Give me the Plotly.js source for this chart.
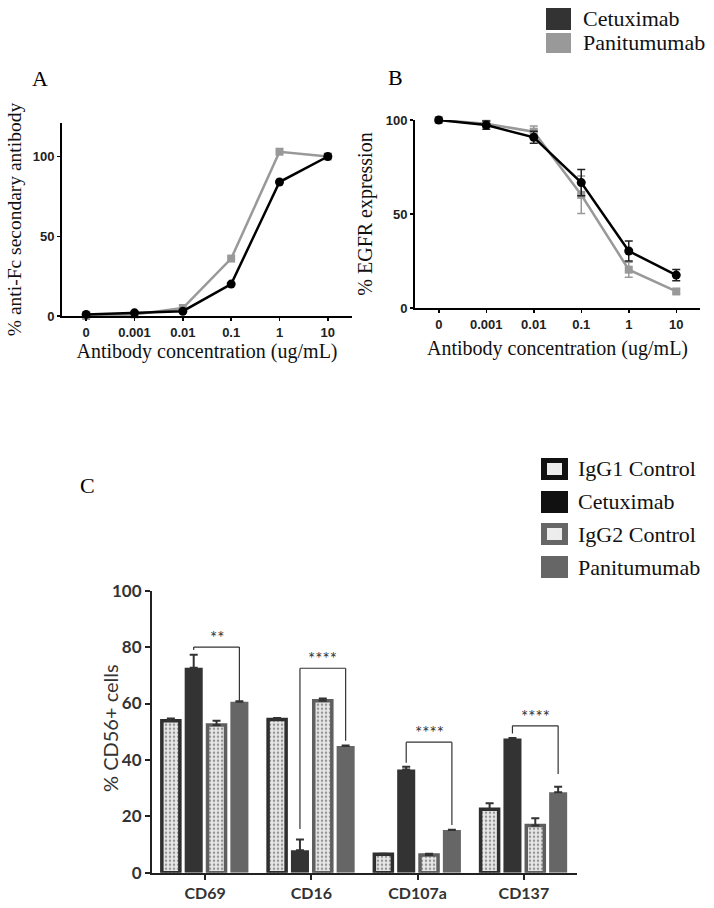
<!DOCTYPE html>
<html>
<head>
<meta charset="utf-8">
<script src="https://cdn.plot.ly/plotly-3.0.1.min.js"></script>
<style>html,body{margin:0;padding:0;background:#fff;}#chart{width:714px;height:908px;}</style>
</head>
<body>
<div id="chart"></div>
<script>
// ---------- DATA ----------
const concLabels = ['0', '0.001', '0.01', '0.1', '1', '10'];

// Panel A: % anti-Fc secondary antibody
const aCetuximab = [1, 2, 3, 20, 84, 100];
const aPanitumumab = [0, 1, 5, 36, 103, 100];

// Panel B: % EGFR expression (mean, sd)
const bCetuximab = [100, 97.3, 90.8, 66.7, 30.3, 17.5];
const bCetuximabErr = [0.8, 2.2, 3.2, 7, 5.3, 3];
const bPanitumumab = [100, 98, 93.8, 60.2, 20.4, 8.8];
const bPanitumumabErr = [0.5, 1.5, 3, 10, 4, 1];

// Panel C: % CD56+ cells
const markers = ['CD69', 'CD16', 'CD107a', 'CD137'];
const cIgG1 = [53.9, 54.3, 6.5, 22.5];
const cIgG1Err = [0.8, 0.6, 0.2, 2.1];
const cCetuximab = [72.7, 8.0, 36.6, 47.6];
const cCetuximabErr = [4.6, 3.8, 1.0, 0.2];
const cIgG2 = [52.4, 61.0, 6.3, 16.7];
const cIgG2Err = [1.5, 0.8, 0.4, 2.6];
const cPanitumumab = [60.6, 44.9, 15.1, 28.5];
const cPanitumumabErr = [0.2, 0.2, 0.1, 2.0];

// significance brackets (Cetuximab vs Panitumumab)
const sigLabels = ['**', '****', '****', '****'];
const sigLevel = [80, 72.5, 46.3, 52.1];
const sigLeftEnd = [79, 15.5, 39, 49.4];
const sigRightEnd = [60.6, 46.8, 16.9, 35];

// ---------- LAYOUT HELPERS ----------
const W = 714, H = 908;
const px = x => x / W;
const py = y => 1 - y / H;

const serif = 'Liberation Serif, Times New Roman, serif';
const sansBold = 'Liberation Sans, Arial, sans-serif';
const cal = 'Lato, Open Sans, sans-serif';

const cIdx = markers.map((_, i) => i);
const bargap = 0.14, bargroupgap = 0.21;
const slot = (1 - bargap) / 4;
const offsetOf = k => (k - 1.5) * slot;

const traces = [];

// Panel A
traces.push({
  x: concLabels, y: aPanitumumab, xaxis: 'x', yaxis: 'y', type: 'scatter', mode: 'lines+markers',
  line: {color: '#999999', width: 2.5}, marker: {symbol: 'square', size: 8, color: '#999999'},
  cliponaxis: false, showlegend: false
});
traces.push({
  x: concLabels, y: aCetuximab, xaxis: 'x', yaxis: 'y', type: 'scatter', mode: 'lines+markers',
  line: {color: '#000000', width: 2.5}, marker: {symbol: 'circle', size: 9, color: '#000000'},
  cliponaxis: false, showlegend: false
});

// Panel B
traces.push({
  x: concLabels, y: bPanitumumab, xaxis: 'x2', yaxis: 'y2', type: 'scatter', mode: 'lines+markers',
  line: {color: '#999999', width: 2.5}, marker: {symbol: 'square', size: 8, color: '#999999'},
  error_y: {type: 'data', array: bPanitumumabErr, visible: true, color: '#999999', thickness: 1.5, width: 4},
  cliponaxis: false, showlegend: false
});
traces.push({
  x: concLabels, y: bCetuximab, xaxis: 'x2', yaxis: 'y2', type: 'scatter', mode: 'lines+markers',
  line: {color: '#000000', width: 2.5}, marker: {symbol: 'circle', size: 9, color: '#000000'},
  error_y: {type: 'data', array: bCetuximabErr, visible: true, color: '#222222', thickness: 1.5, width: 4},
  cliponaxis: false, showlegend: false
});

// Panel C
const zeros = markers.map(() => 0);
function barTrace(name, vals, errs, fill, lineColor, lineWidth, pattern) {
  const t = {
    type: 'bar', name: name, x: cIdx, y: vals, xaxis: 'x3', yaxis: 'y3',
    marker: {color: fill, line: {color: lineColor, width: lineWidth}},
    error_y: {type: 'data', symmetric: false, array: errs, arrayminus: zeros, visible: true,
              color: '#333333', thickness: 2, width: 4},
    showlegend: false, cliponaxis: false
  };
  if (pattern) {
    t.marker.pattern = {shape: '.', bgcolor: '#e8e8e8', fgcolor: '#959595', size: 4, solidity: 0.3, fillmode: 'replace'};
  }
  return t;
}
traces.push(barTrace('IgG1 Control', cIgG1, cIgG1Err, '#e8e8e8', '#2e2e2e', 3.5, true));
traces.push(barTrace('Cetuximab', cCetuximab, cCetuximabErr, '#333333', '#333333', 0, false));
traces.push(barTrace('IgG2 Control', cIgG2, cIgG2Err, '#e8e8e8', '#5f5f5f', 3.5, true));
traces.push(barTrace('Panitumumab', cPanitumumab, cPanitumumabErr, '#666666', '#666666', 0, false));

// ---------- SHAPES & ANNOTATIONS ----------
const shapes = [];
const annotations = [];
const images = [];

// significance brackets
sigLabels.forEach((lab, i) => {
  const xl = cIdx[i] + offsetOf(1), xr = cIdx[i] + offsetOf(3);
  const ln = {color: '#333333', width: 1.2};
  shapes.push({type: 'line', xref: 'x3', yref: 'y3', x0: xl, x1: xr, y0: sigLevel[i], y1: sigLevel[i], line: ln});
  shapes.push({type: 'line', xref: 'x3', yref: 'y3', x0: xl, x1: xl, y0: sigLevel[i], y1: sigLeftEnd[i], line: ln});
  shapes.push({type: 'line', xref: 'x3', yref: 'y3', x0: xr, x1: xr, y0: sigLevel[i], y1: sigRightEnd[i], line: ln});
  annotations.push({xref: 'x3', yref: 'y3', x: (xl + xr) / 2, y: sigLevel[i], text: lab, showarrow: false,
    yanchor: 'bottom', yshift: -3, font: {family: cal, size: 17, color: '#333333'}});
});

// panel letters
[['A', 40, 78], ['B', 395, 77], ['C', 87, 485]].forEach(([t, x, y]) => {
  annotations.push({xref: 'paper', yref: 'paper', x: px(x), y: py(y), text: t, showarrow: false,
    xanchor: 'center', yanchor: 'middle', font: {family: serif, size: 22, color: '#000'}});
});

// top legend (A/B)
const topLegend = [['Cetuximab', '#333333', 8, 30], ['Panitumumab', '#999999', 33, 53]];
topLegend.forEach(([t, c, y0, y1]) => {
  shapes.push({type: 'rect', xref: 'paper', yref: 'paper', x0: px(546), x1: px(571), y0: py(y0), y1: py(y1),
    fillcolor: c, line: {width: 0}});
  annotations.push({xref: 'paper', yref: 'paper', x: px(581), y: py((y0 + y1) / 2), text: t, showarrow: false,
    xanchor: 'left', yanchor: 'middle', font: {family: serif, size: 22, color: '#111'}});
});

// C legend
const dotSvg = '<svg xmlns="http://www.w3.org/2000/svg" width="40" height="40"><defs><pattern id="p" width="3" height="3" patternUnits="userSpaceOnUse"><rect width="3" height="3" fill="#ffffff"/><circle cx="1.5" cy="1.5" r="0.7" fill="#8a8a8a"/></pattern></defs><rect width="40" height="40" fill="url(#p)"/></svg>';
const dotSrc = 'data:image/svg+xml;charset=utf-8,' + encodeURIComponent(dotSvg);
const cLegend = [
  ['IgG1 Control', '#111111', true, 469],
  ['Cetuximab', '#111111', false, 502],
  ['IgG2 Control', '#666666', true, 534],
  ['Panitumumab', '#666666', false, 567]
];
cLegend.forEach(([t, c, dotted, yc]) => {
  const x0 = 541, x1 = 568, y0 = yc - 11, y1 = yc + 11;
  shapes.push({type: 'rect', xref: 'paper', yref: 'paper', x0: px(x0), x1: px(x1), y0: py(y0), y1: py(y1),
    fillcolor: c, line: {width: 0}, layer: 'below'});
  if (dotted) {
    images.push({source: dotSrc, xref: 'paper', yref: 'paper', x: px(x0 + 6), y: py(y0 + 5),
      sizex: px(x1 - x0 - 12), sizey: (y1 - y0 - 10) / H, sizing: 'stretch', xanchor: 'left', yanchor: 'top', layer: 'above'});
  }
  annotations.push({xref: 'paper', yref: 'paper', x: px(576), y: py(yc), text: t, showarrow: false,
    xanchor: 'left', yanchor: 'middle', font: {family: serif, size: 22, color: '#111'}});
});

// C y-axis title (placed to match reference)
annotations.push({xref: 'paper', yref: 'paper', x: px(110), y: py(728), text: '% CD56+ cells', textangle: -90,
  showarrow: false, xanchor: 'center', yanchor: 'middle', font: {family: cal, size: 20, color: '#333'}});

// ---------- AXES ----------
const abTick = {family: sansBold, size: 13, color: '#222', weight: 'bold'};
const layout = {
  width: W, height: H,
  margin: {l: 0, r: 0, t: 0, b: 0},
  paper_bgcolor: '#fff', plot_bgcolor: '#fff',
  showlegend: false,
  barmode: 'group', bargap: bargap, bargroupgap: bargroupgap,
  xaxis: {
    domain: [px(62), px(352)], anchor: 'y', type: 'category', range: [-0.5, 5.5],
    showline: true, linecolor: '#000', linewidth: 2, ticks: 'outside', ticklen: 3, tickwidth: 1.5, tickcolor: '#000',
    showgrid: false, zeroline: false, tickfont: abTick,
    title: {text: 'Antibody concentration (ug/mL)', font: {family: serif, size: 20, color: '#111'}, standoff: 0}
  },
  yaxis: {
    domain: [py(316), py(123)], anchor: 'x', range: [0, 121], tickvals: [0, 50, 100],
    showline: true, linecolor: '#000', linewidth: 2, ticks: 'outside', ticklen: 3, tickwidth: 1.5, tickcolor: '#000',
    showgrid: false, zeroline: false, tickfont: abTick,
    title: {text: '% anti-Fc secondary antibody', font: {family: serif, size: 19.5, color: '#111'}, standoff: 6}
  },
  xaxis2: {
    domain: [px(415), px(700)], anchor: 'y2', type: 'category', range: [-0.5, 5.5],
    showline: true, linecolor: '#000', linewidth: 2, ticks: 'outside', ticklen: 3, tickwidth: 1.5, tickcolor: '#000',
    showgrid: false, zeroline: false, tickfont: abTick,
    title: {text: 'Antibody concentration (ug/mL)', font: {family: serif, size: 20, color: '#111'}, standoff: 10}
  },
  yaxis2: {
    domain: [py(308), py(120)], anchor: 'x2', range: [0, 100], tickvals: [0, 50, 100],
    showline: true, linecolor: '#000', linewidth: 2, ticks: 'outside', ticklen: 3, tickwidth: 1.5, tickcolor: '#000',
    showgrid: false, zeroline: false, tickfont: abTick,
    title: {text: '% EGFR expression', font: {family: serif, size: 20, color: '#111'}, standoff: 8}
  },
  xaxis3: {
    domain: [px(152), px(577)], anchor: 'y3', range: [-0.5, 3.5],
    tickvals: cIdx, ticktext: markers,
    showline: true, linecolor: '#222', linewidth: 2, ticks: 'outside', ticklen: 5, tickwidth: 2, tickcolor: '#222',
    showgrid: false, zeroline: false, tickfont: {family: cal, size: 16, color: '#333', weight: 'bold'}
  },
  yaxis3: {
    domain: [py(872.7), py(590.7)], anchor: 'x3', range: [0, 100], dtick: 20,
    showline: true, linecolor: '#222', linewidth: 2, ticks: 'outside', ticklen: 5, tickwidth: 2, tickcolor: '#222',
    showgrid: false, zeroline: false, tickfont: {family: cal, size: 17, color: '#333', weight: 'bold'}
  },
  shapes: shapes,
  annotations: annotations,
  images: images
};

Plotly.newPlot('chart', traces, layout, {staticPlot: true, displayModeBar: false});
</script>
</body>
</html>
